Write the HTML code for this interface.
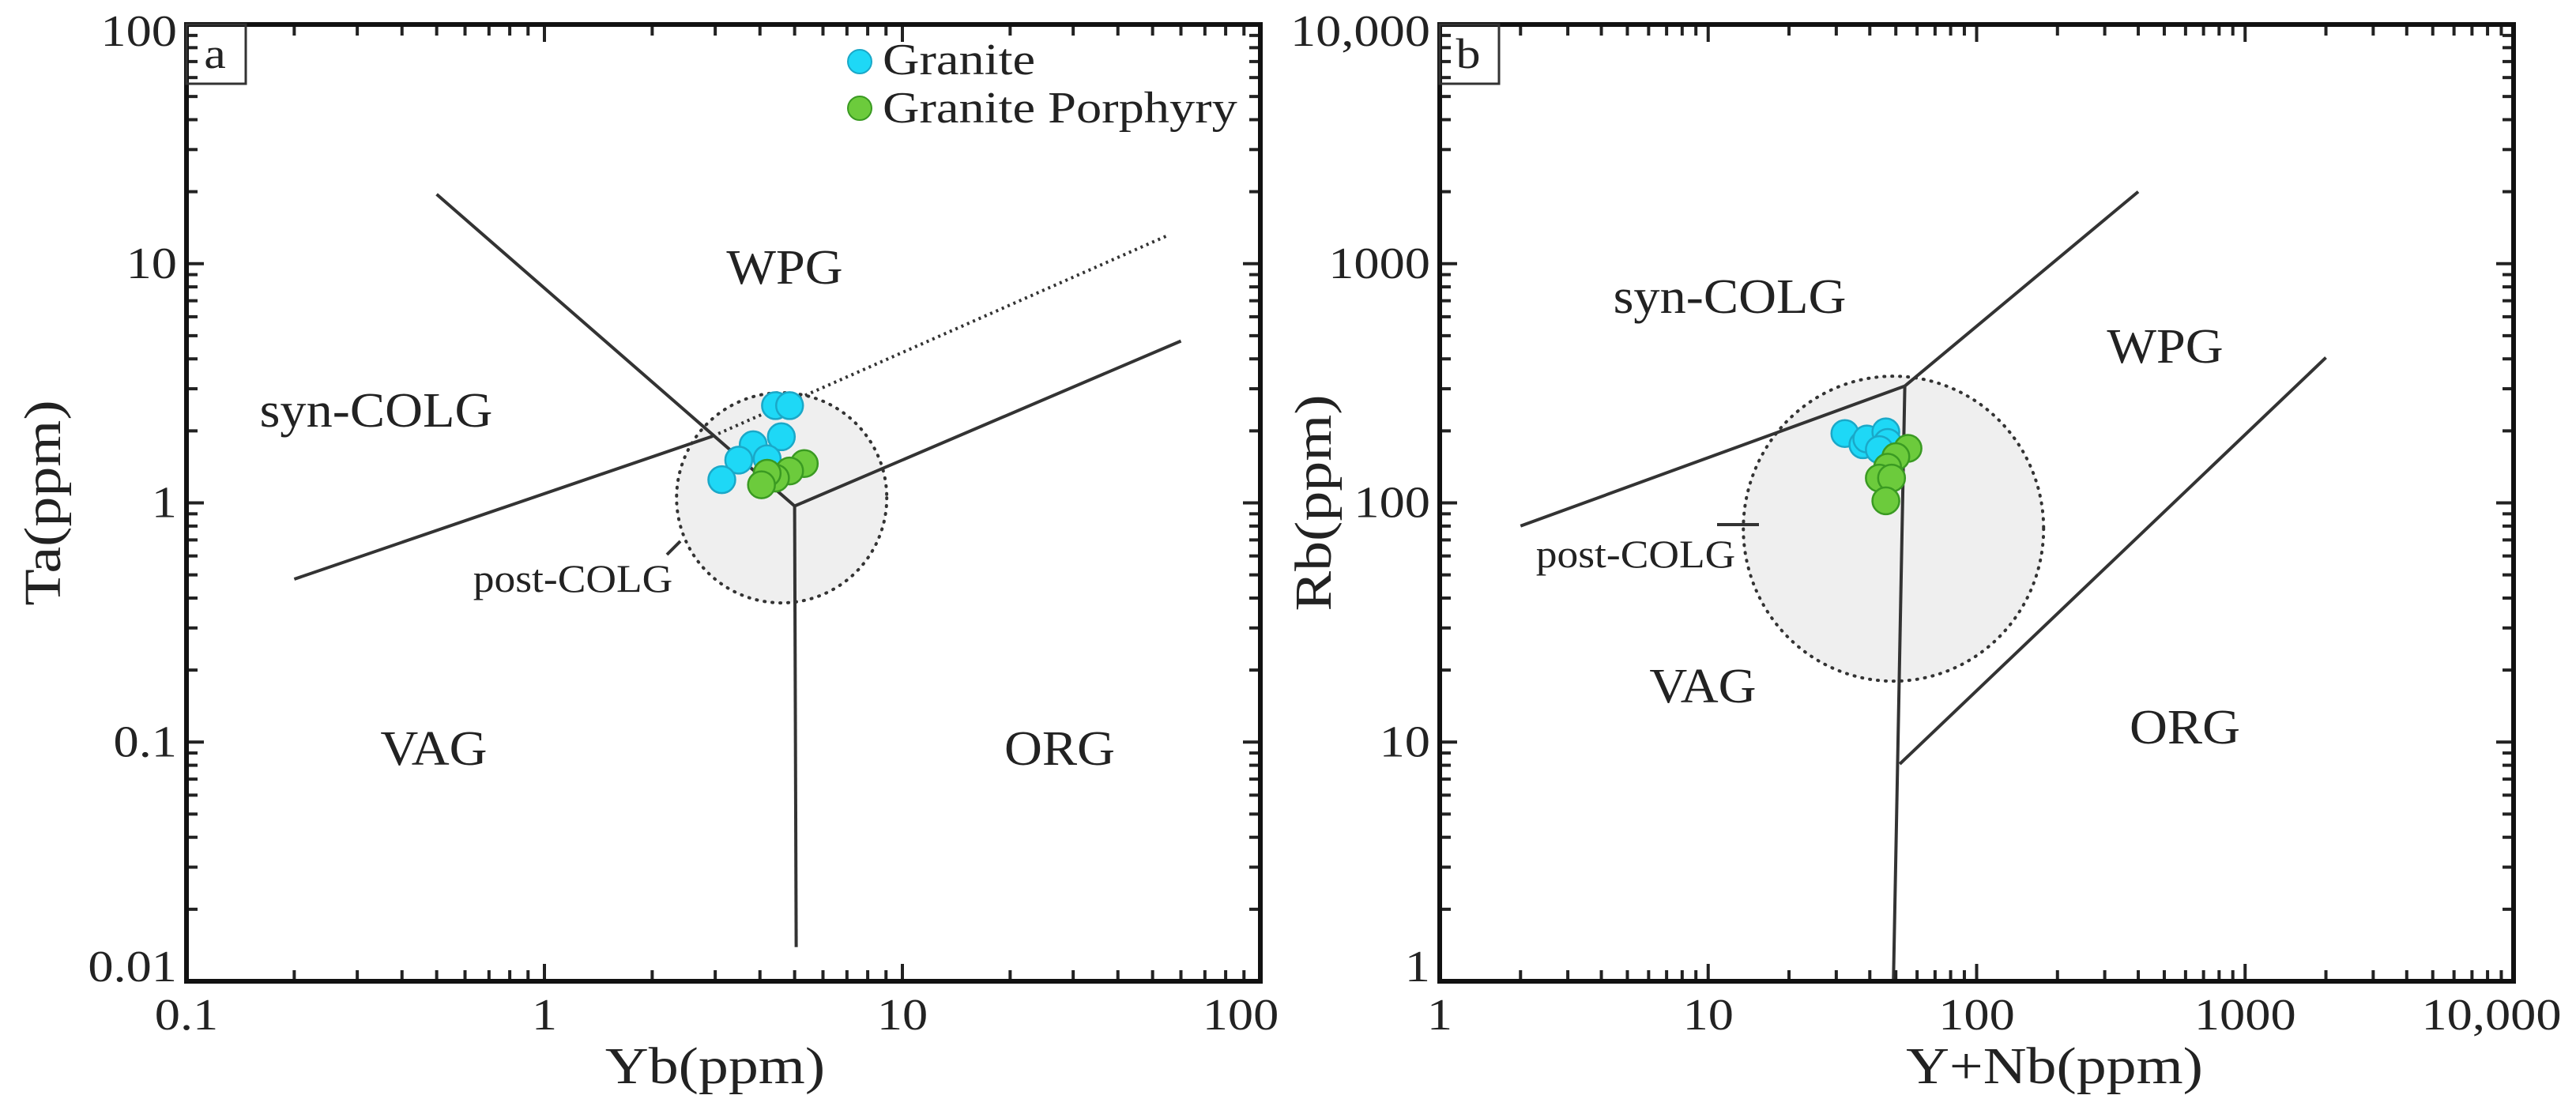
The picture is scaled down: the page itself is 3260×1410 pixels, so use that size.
<!DOCTYPE html>
<html><head><meta charset="utf-8"><style>
body{margin:0;background:#fff;}
svg text{font-family:"Liberation Serif",serif;fill:#222;}
</style></head><body>
<svg id="c" width="3260" height="1405" viewBox="0 0 3260 1405" xmlns="http://www.w3.org/2000/svg"></svg>
<script>
// Panel a data: Ta vs Yb
const aGraniteYb = [4.42,4.84,4.59,3.83,4.19,3.49,3.13];
const aGraniteTa = [2.55,2.55,1.89,1.75,1.53,1.51,1.25];
const aPorphYb = [5.32,4.84,4.42,4.19,4.04];
const aPorphTa = [1.46,1.36,1.27,1.33,1.19];
const aXTicks = ["0.1","1","10","100"];
const aYTicks = ["0.01","0.1","1","10","100"];
// Panel b data: Rb vs Y+Nb
const bGraniteX = [32.3,37.7,39.0,45.9,46.6,43.4];
const bGraniteY = [195,175,185,198,179,167];
const bPorphX = [55.5,50.0,46.6,43.4,48.2,45.9];
const bPorphY = [169,156,141,127,127,102];
const bXTicks = ["1","10","100","1000","10,000"];
const bYTicks = ["1","10","100","1000","10,000"];

const NS="http://www.w3.org/2000/svg", svg=document.getElementById('c');
function mk(tag,attrs,parent,name){const e=document.createElementNS(NS,tag);for(const k in attrs)e.setAttribute(k,attrs[k]);(parent||svg).appendChild(e);


return e;}
function txt(s,x,y,size,anchor,parent,name,rot,sxf){
  const SX=sxf||1.15;
  const tf=rot?`translate(${x},${y}) rotate(-90) scale(${SX},1)`:`translate(${x},${y}) scale(${SX},1)`;
  const t=mk('text',{x:0,y:0,'font-size':size,'text-anchor':anchor||'middle',transform:tf},parent,name);t.textContent=s;return t;}

function panel(P){
  const g=mk('g',{},svg,P.id);
  const L=P.l,R=P.r,T=P.t,B=P.b;
  const nx=Math.log10(P.xmax/P.xmin), ny=Math.log10(P.ymax/P.ymin);
  const sx=v=>L+(R-L)*Math.log10(v/P.xmin)/nx;
  const sy=v=>B-(B-T)*Math.log10(v/P.ymin)/ny;
  const e=P.ell;
  mk('ellipse',{cx:sx(e[0]),cy:sy(e[1]),rx:e[2],ry:e[3],fill:'#efefef',stroke:'#333','stroke-width':4,'stroke-dasharray':'1 9','stroke-linecap':'round'},g,'post-colg-field');
  P.lines.forEach((ln,i)=>{
    const pts=ln.pts.map(p=>sx(p[0]).toFixed(1)+','+sy(p[1]).toFixed(1)).join(' ');
    mk('polyline',{points:pts,fill:'none',stroke:'#333','stroke-width':4,'stroke-dasharray':ln.dot?'3 5':'none'},g,'boundary-line-'+(i+1));
  });
  mk('line',{x1:P.tick[0],y1:P.tick[1],x2:P.tick[2],y2:P.tick[3],stroke:'#333','stroke-width':4},g,'post-colg-pointer');
  for(let d=0;d<nx;d++)for(let m=1;m<10;m++){const v=P.xmin*Math.pow(10,d)*m;const x=sx(v);if(d==0&&m==1)continue;const len=m==1?22:14;
    mk('line',{x1:x,y1:B,x2:x,y2:B-len,stroke:'#222','stroke-width':4},g,'x-tick');mk('line',{x1:x,y1:T,x2:x,y2:T+len,stroke:'#222','stroke-width':4},g,'x-tick');}
  for(let d=0;d<ny;d++)for(let m=1;m<10;m++){const v=P.ymin*Math.pow(10,d)*m;const y=sy(v);if(d==0&&m==1)continue;const len=m==1?22:14;
    mk('line',{x1:L,y1:y,x2:L+len,y2:y,stroke:'#222','stroke-width':4},g,'y-tick');mk('line',{x1:R,y1:y,x2:R-len,y2:y,stroke:'#222','stroke-width':4},g,'y-tick');}
  mk('rect',{x:L,y:T,width:R-L,height:B-T,fill:'none',stroke:'#111','stroke-width':6},g,'plot-frame');
  P.xt.forEach((s,i)=>{let x=sx(P.xmin*Math.pow(10,i));if(i==P.xt.length-1)x-=P.xlastShift;txt(s,x,1303,56,'middle',g,'x-tick-label');});
  P.yt.forEach((s,i)=>{let y=sy(P.ymin*Math.pow(10,i))+18;if(i==0)y-=18;if(i==P.yt.length-1)y+=9;txt(s,L-12,y,56,'end',g,'y-tick-label');});
  txt(P.xtitle,P.xtx,1371,66,'middle',g,'x-axis-title');
  txt(P.ytitle,P.ytx,(T+B)/2,66,'middle',g,'y-axis-title',true);
  mk('rect',{x:L,y:T,width:75,height:75,fill:'none',stroke:'#333','stroke-width':3},g,'panel-letter-box');
  txt(P.letter,L+36,T+55,54,'middle',g,'panel-letter');
  P.labels.forEach(lb=>txt(lb[0],lb[1],lb[2],lb[3],'middle',g,'field-label-'+lb[0].toLowerCase(),false,1.07));
  const dot=(xs,ys,fill,stroke,name)=>xs.forEach((v,i)=>mk('circle',{cx:sx(v),cy:sy(ys[i]),r:17,fill:fill,stroke:stroke,'stroke-width':2.5},g,name));
  dot(P.gx,P.gy,'#1ed8f6','#1aa8c8','granite-point');
  dot(P.px,P.py,'#6ccb3c','#3a9a22','porphyry-point');
}

panel({id:'panel-a',l:236,r:1595,t:31,b:1242,xmin:0.1,xmax:100,ymin:0.01,ymax:100,
  ell:[4.6,1.05,133,133],
  lines:[{pts:[[0.5,19.5],[5,0.97]]},{pts:[[0.2,0.48],[2.95,1.9]]},{pts:[[2.95,1.9],[55,13.1]],dot:true},{pts:[[5,0.97],[60,4.75]]},{pts:[[5,0.97],[5.05,0.0139]]}],
  tick:[844,702,861,685],
  xt:aXTicks,yt:aYTicks,xlastShift:25,xtitle:'Yb(ppm)',xtx:905,ytitle:'Ta(ppm)',ytx:76,letter:'a',
  labels:[['WPG',993,359,62],['syn-COLG',476,540,62],['VAG',549,968,62],['ORG',1341,968,62],['post-COLG',725,749,50]],
  gx:aGraniteYb,gy:aGraniteTa,px:aPorphYb,py:aPorphTa});
panel({id:'panel-b',l:1822,r:3181,t:31,b:1242,xmin:1,xmax:10000,ymin:1,ymax:10000,
  ell:[49,78,190,193],
  lines:[{pts:[[2,80],[54,308]]},{pts:[[54,308],[400,2000]]},{pts:[[54,308],[49,1]]},{pts:[[51.7,8.1],[2000,405]]}],
  tick:[2173,664,2226,664],
  xt:bXTicks,yt:bYTicks,xlastShift:28,xtitle:'Y+Nb(ppm)',xtx:2600,ytitle:'Rb(ppm)',ytx:1684,letter:'b',
  labels:[['syn-COLG',2189,396,62],['WPG',2740,459,62],['VAG',2155,889,62],['ORG',2765,941,62],['post-COLG',2070,718,50]],
  gx:bGraniteX,gy:bGraniteY,px:bPorphX,py:bPorphY});

const lg=mk('g',{},svg,'legend');
mk('circle',{cx:1088,cy:78,r:15,fill:'#1ed8f6',stroke:'#1aa8c8','stroke-width':2},lg,'legend-granite-marker');
txt('Granite',1117,94,56,'start',lg,'legend-granite-label');
mk('circle',{cx:1088,cy:137,r:15,fill:'#6ccb3c',stroke:'#3a9a22','stroke-width':2},lg,'legend-porphyry-marker');
txt('Granite Porphyry',1117,155,56,'start',lg,'legend-porphyry-label');
</script>
</body></html>
